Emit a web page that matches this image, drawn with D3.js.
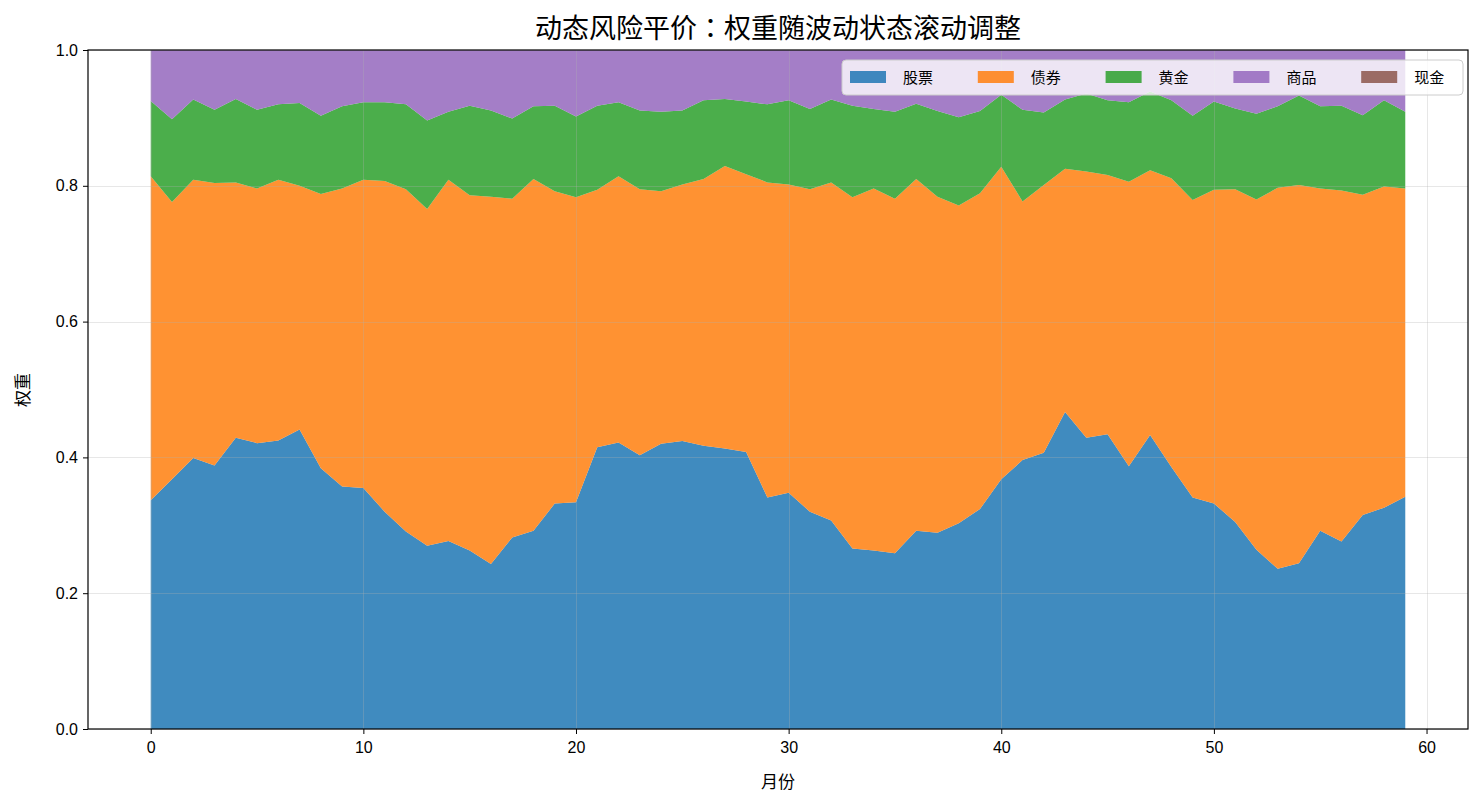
<!DOCTYPE html>
<html>
<head>
<meta charset="utf-8">
<script src="https://cdn.jsdelivr.net/npm/d3@7"></script>
<style>
  body { margin: 0; background: #fff; }
  text { font-family: "Liberation Sans", "Noto Sans CJK SC", sans-serif; fill: #000; }
</style>
</head>
<body>
<div id="chart"></div>
<script>
const seriesNames = ["股票", "债券", "黄金", "商品", "现金"];
const seriesKeys = ["stock", "bond", "gold", "commodity", "cash"];

// monthly weights
const stockW = [0.337, 0.368, 0.399, 0.388, 0.429, 0.421, 0.425, 0.441, 0.384, 0.357,
  0.355, 0.320, 0.291, 0.270, 0.277, 0.263, 0.243, 0.282, 0.292, 0.332,
  0.334, 0.415, 0.422, 0.403, 0.420, 0.424, 0.417, 0.413, 0.408, 0.341,
  0.348, 0.320, 0.307, 0.266, 0.263, 0.259, 0.292, 0.289, 0.303, 0.324,
  0.368, 0.396, 0.407, 0.467, 0.429, 0.434, 0.387, 0.433, 0.386, 0.341,
  0.332, 0.305, 0.264, 0.236, 0.244, 0.292, 0.276, 0.315, 0.326, 0.342];
const bondW = [0.477, 0.408, 0.410, 0.416, 0.376, 0.375, 0.384, 0.359, 0.404, 0.439,
  0.454, 0.487, 0.504, 0.496, 0.532, 0.523, 0.541, 0.499, 0.518, 0.460,
  0.449, 0.379, 0.392, 0.392, 0.372, 0.378, 0.393, 0.416, 0.409, 0.464,
  0.454, 0.475, 0.498, 0.517, 0.533, 0.522, 0.518, 0.495, 0.468, 0.465,
  0.460, 0.381, 0.394, 0.358, 0.392, 0.382, 0.419, 0.390, 0.425, 0.438,
  0.462, 0.490, 0.516, 0.561, 0.557, 0.504, 0.517, 0.472, 0.473, 0.454];
const goldW = [0.111, 0.122, 0.118, 0.108, 0.123, 0.116, 0.111, 0.122, 0.115, 0.121,
  0.114, 0.116, 0.125, 0.130, 0.100, 0.132, 0.127, 0.118, 0.107, 0.126,
  0.119, 0.124, 0.109, 0.116, 0.117, 0.109, 0.116, 0.099, 0.107, 0.115,
  0.124, 0.118, 0.122, 0.135, 0.117, 0.128, 0.111, 0.126, 0.130, 0.121,
  0.106, 0.135, 0.107, 0.102, 0.115, 0.110, 0.117, 0.116, 0.115, 0.124,
  0.130, 0.119, 0.126, 0.120, 0.132, 0.121, 0.125, 0.117, 0.127, 0.113];
const commodityW = [0.075, 0.102, 0.073, 0.088, 0.072, 0.088, 0.080, 0.078, 0.097, 0.083,
  0.077, 0.077, 0.080, 0.104, 0.091, 0.082, 0.089, 0.101, 0.083, 0.082,
  0.098, 0.082, 0.077, 0.089, 0.091, 0.089, 0.074, 0.072, 0.076, 0.080,
  0.074, 0.087, 0.073, 0.082, 0.087, 0.091, 0.079, 0.090, 0.099, 0.090,
  0.066, 0.088, 0.092, 0.073, 0.064, 0.074, 0.077, 0.061, 0.074, 0.097,
  0.076, 0.086, 0.094, 0.083, 0.067, 0.083, 0.082, 0.096, 0.074, 0.091];
const cashW = new Array(60).fill(0);

const xTicks = [0, 10, 20, 30, 40, 50, 60];
const yTicks = [0, 0.2, 0.4, 0.6, 0.8, 1.0];

const colors = ["#1f77b4", "#ff7f0e", "#2ca02c", "#9467bd", "#8c564b"];

(function stacked() {
  let width = 1484,
    height = 808,
    margin = ({ top: 50, right: 16, bottom: 79, left: 88 });

  const svg = d3.select("#chart")
    .append("svg")
    .attr("width", width)
    .attr("height", height);

  let rows = stockW.map((d, i) => ({
    month: i,
    stock: stockW[i],
    bond: bondW[i],
    gold: goldW[i],
    commodity: commodityW[i],
    cash: cashW[i]
  }));

  let x = d3.scaleLinear()
    .domain([-2.95, 61.95])
    .range([margin.left, width - margin.right]);

  let y = d3.scaleLinear()
    .domain([0, 1])
    .range([height - margin.bottom, margin.top]);

  let stack = d3.stack().keys(seriesKeys);
  let layers = stack(rows);

  let area = d3.area()
    .x(d => x(d.data.month))
    .y0(d => y(d[0]))
    .y1(d => y(d[1]));

  svg.append("g")
    .selectAll("path")
    .data(layers)
    .join("path")
    .attr("fill", (d, i) => colors[i])
    .attr("fill-opacity", 0.85)
    .attr("d", area);

  // grid on top of the areas, faint
  let grid = svg.append("g")
    .attr("stroke", "#b0b0b0")
    .attr("stroke-opacity", 0.3)
    .attr("stroke-width", 1);

  grid.selectAll(".gx")
    .data(xTicks)
    .join("line")
    .attr("x1", d => Math.round(x(d)) + 0.5)
    .attr("x2", d => Math.round(x(d)) + 0.5)
    .attr("y1", margin.top)
    .attr("y2", height - margin.bottom);

  grid.selectAll(".gy")
    .data(yTicks)
    .join("line")
    .attr("x1", margin.left)
    .attr("x2", width - margin.right)
    .attr("y1", d => Math.round(y(d)) + 0.5)
    .attr("y2", d => Math.round(y(d)) + 0.5);

  let xAxis = svg.append("g")
    .attr("transform", `translate(0,${height - margin.bottom})`)
    .call(d3.axisBottom(x).tickValues(xTicks).tickSize(5).tickPadding(8).tickFormat(d3.format("d")));

  let yAxis = svg.append("g")
    .attr("transform", `translate(${margin.left},0)`)
    .call(d3.axisLeft(y).tickValues(yTicks).tickSize(5).tickPadding(5).tickFormat(d3.format(".1f")));

  for (let ax of [xAxis, yAxis]) {
    ax.select(".domain").remove();
    ax.selectAll("line").attr("stroke", "#000");
    ax.selectAll("text")
      .attr("font-size", 16)
      .style("font-family", "\"Liberation Sans\", \"Noto Sans CJK SC\", sans-serif");
  }

  // spines
  svg.append("rect")
    .attr("x", margin.left)
    .attr("y", margin.top)
    .attr("width", width - margin.left - margin.right)
    .attr("height", height - margin.top - margin.bottom)
    .attr("fill", "none")
    .attr("stroke", "#000")
    .attr("stroke-width", 1.2);

  svg.append("text")
    .attr("x", (margin.left + width - margin.right) / 2)
    .attr("y", 38)
    .attr("text-anchor", "middle")
    .attr("font-size", 27)
    .style("font-family", "\"Noto Sans CJK TC\", \"Noto Sans CJK SC\", sans-serif")
    .text("动态风险平价：权重随波动状态滚动调整");

  svg.append("text")
    .attr("x", (margin.left + width - margin.right) / 2)
    .attr("y", 788)
    .attr("text-anchor", "middle")
    .attr("font-size", 17)
    .text("月份");

  svg.append("text")
    .attr("transform", "translate(29,390) rotate(-90)")
    .attr("text-anchor", "middle")
    .attr("font-size", 17)
    .text("权重");

  // legend
  let lg = svg.append("g");
  lg.append("rect")
    .attr("x", 842)
    .attr("y", 60)
    .attr("width", 621)
    .attr("height", 35)
    .attr("rx", 4)
    .attr("fill", "#fff")
    .attr("fill-opacity", 0.8)
    .attr("stroke", "#cccccc");

  seriesNames.forEach((name, i) => {
    let lx = 850 + i * 127.8;
    lg.append("rect")
      .attr("x", lx)
      .attr("y", 71)
      .attr("width", 36)
      .attr("height", 12)
      .attr("fill", colors[i])
      .attr("fill-opacity", 0.85);
    lg.append("text")
      .attr("x", lx + 53)
      .attr("y", 77)
      .attr("dominant-baseline", "central")
      .attr("font-size", 15)
      .text(name);
  });
})();
</script>
</body>
</html>
